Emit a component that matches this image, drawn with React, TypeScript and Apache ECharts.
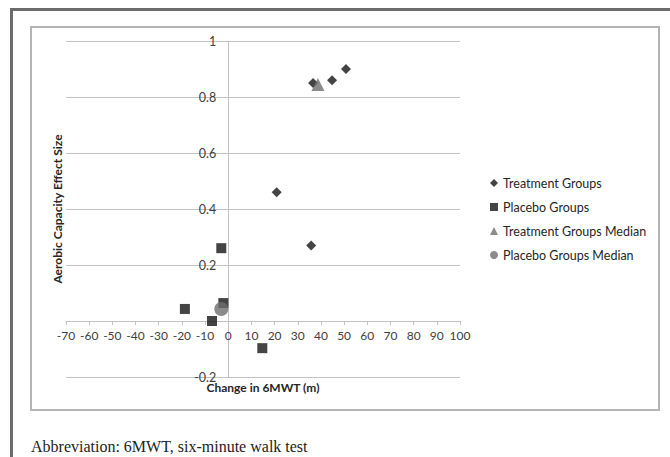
import React, { useEffect, useRef } from "react";
import * as echarts from "echarts";

const xTicks = { min: -70, max: 100, interval: 10 };
const yTicks = { min: -0.2, max: 1, interval: 0.2 };

const seriesNames = [
  "Treatment Groups",
  "Placebo Groups",
  "Treatment Groups Median",
  "Placebo Groups Median",
];

const treatmentGroups: [number, number][] = [
  [36.6, 0.85],
  [44.8, 0.86],
  [50.8, 0.9],
  [20.9, 0.46],
  [35.8, 0.27],
];

const placeboGroups: [number, number][] = [
  [-3, 0.26],
  [-2.1, 0.064],
  [-18.7, 0.043],
  [-7, 0.0],
  [14.7, -0.097],
];

const treatmentMedian: [number, number][] = [[38.7, 0.845]];
const placeboMedian: [number, number][] = [[-3, 0.043]];

const xTitle = "Change in 6MWT (m)";
const yTitle = "Aerobic Capacity Effect Size";
const caption = "Abbreviation: 6MWT, six-minute walk test";

export default function App() {
  const ref = useRef<HTMLDivElement>(null);
  useEffect(() => {
    if (!ref.current) return;
    const chart = echarts.init(ref.current, null, { renderer: "svg" });
    const font = "Lato, 'Noto Sans', sans-serif";
    const gridColor = "#c3c3c3";
    const W = 670;
    const H = 457;
    const grid = { left: 66, right: 210, top: 41, bottom: 80 };
    const plotW = W - grid.left - grid.right;
    const plotH = H - grid.top - grid.bottom;
    // place axes so they cross at zero (the library's onZero keeps labels at edges)
    const xZeroPx = ((0 - xTicks.min) / (xTicks.max - xTicks.min)) * plotW;
    const yZeroPx = ((0 - yTicks.min) / (yTicks.max - yTicks.min)) * plotH;
    chart.setOption({
      animation: false,
      backgroundColor: "#ffffff",
      textStyle: { fontFamily: font },
      grid,
      xAxis: {
        type: "value",
        min: xTicks.min,
        max: xTicks.max,
        interval: xTicks.interval,
        position: "bottom",
        offset: -yZeroPx,
        axisLine: { onZero: false, lineStyle: { color: gridColor, width: 1 } },
        axisTick: { show: true, length: 4, inside: false, lineStyle: { color: gridColor } },
        axisLabel: { color: "#404040", fontSize: 12, margin: 8, fontFamily: font },
        splitLine: { show: false },
      },
      yAxis: {
        type: "value",
        min: yTicks.min,
        max: yTicks.max,
        interval: yTicks.interval,
        position: "left",
        offset: -xZeroPx,
        axisLine: { show: true, onZero: false, lineStyle: { color: gridColor, width: 1 } },
        axisTick: { show: false },
        axisLabel: {
          color: "#404040",
          fontSize: 12.5,
          margin: 12,
          fontFamily: font,
          formatter: (v: number) => (Math.abs(v) < 1e-9 ? "" : String(Math.round(v * 10) / 10)),
        },
        splitLine: { show: true, lineStyle: { color: gridColor, width: 1 } },
      },
      legend: {
        orient: "vertical",
        left: 485,
        top: 171,
        itemWidth: 8,
        itemHeight: 8,
        itemGap: 10,
        textStyle: { fontSize: 12.5, color: "#262626", fontFamily: font, lineHeight: 14 },
        data: seriesNames,
      },
      series: [
        {
          name: seriesNames[0],
          type: "scatter",
          symbol: "diamond",
          symbolSize: 10,
          itemStyle: { color: "#151515" },
          data: treatmentGroups,
        },
        {
          name: seriesNames[1],
          type: "scatter",
          symbol: "rect",
          symbolSize: 10,
          itemStyle: { color: "#151515" },
          data: placeboGroups,
        },
        {
          name: seriesNames[2],
          type: "scatter",
          symbol: "triangle",
          symbolSize: 13,
          itemStyle: { color: "#6e6e6e" },
          data: treatmentMedian,
        },
        {
          name: seriesNames[3],
          type: "scatter",
          symbol: "circle",
          symbolSize: 14,
          itemStyle: { color: "#6e6e6e" },
          data: placeboMedian,
        },
      ],
      graphic: [
        {
          type: "line",
          shape: { x1: 10, y1: 9.5, x2: 670, y2: 9.5 },
          style: { stroke: "#6b6b6b", lineWidth: 3 },
          silent: true,
        },
        {
          type: "line",
          shape: { x1: 11.5, y1: 8, x2: 11.5, y2: 457 },
          style: { stroke: "#6b6b6b", lineWidth: 3 },
          silent: true,
        },
        {
          type: "rect",
          shape: { x: 31, y: 27, width: 628, height: 383 },
          style: { fill: "none", stroke: "#b4b4b4", lineWidth: 2 },
          silent: true,
          z: -1,
        },
        {
          type: "text",
          x: 263,
          y: 387,
          style: {
            text: xTitle,
            font: "bold 12px " + font,
            fill: "#262626",
            align: "center",
            verticalAlign: "middle",
          },
        },
        {
          type: "text",
          x: 57,
          y: 209,
          rotation: Math.PI / 2,
          style: {
            text: yTitle,
            font: "bold 12px " + font,
            fill: "#262626",
            align: "center",
            verticalAlign: "middle",
          },
        },
        {
          type: "text",
          x: 31,
          y: 446,
          style: {
            text: caption,
            font: "16px 'Liberation Serif', 'DejaVu Serif', serif",
            fill: "#222222",
            align: "left",
            verticalAlign: "middle",
          },
        },
      ],
    });
    return () => chart.dispose();
  }, []);
  return (
    <div
      ref={ref}
      style={{ position: "absolute", left: 0, top: 0, width: 670, height: 457 }}
    />
  );
}
